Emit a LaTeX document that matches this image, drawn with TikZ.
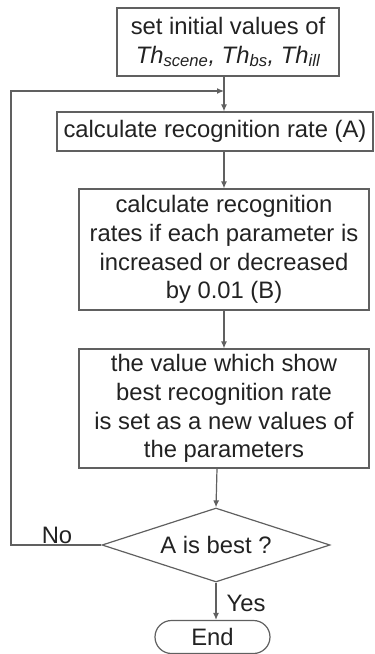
\documentclass[tikz,border=0pt]{standalone}
\usepackage{fontspec}
\setmainfont{Liberation Sans}
\usetikzlibrary{shapes.geometric,shapes.misc,arrows.meta}
\definecolor{linec}{HTML}{606060}
\definecolor{textc}{HTML}{222222}
\tikzset{
  box/.style={draw=linec, line width=1.2pt, inner sep=0pt, align=center, text=textc,
    font=\fontsize{23.8pt}{28.7pt}\selectfont},
  conn/.style={draw=linec, line width=1.2pt, -{Latex[length=7pt,width=6pt]}},
  lbl/.style={text=textc, inner sep=0pt, font=\fontsize{23.8pt}{28.7pt}\selectfont}
}
\begin{document}
\begin{tikzpicture}[x=1pt,y=1pt]
\useasboundingbox (0,0) rectangle (375,-654);
\node[box, minimum width=222pt, minimum height=68pt] (b1) at (228,-42)
  {set initial values of\\ \itshape Th\textsubscript{scene}, Th\textsubscript{bs}, Th\textsubscript{ill}};
\node[box, minimum width=316pt, minimum height=39pt] (b2) at (215,-131.5)
  {calculate recognition rate (A)};
\node[box, minimum width=290pt, minimum height=121pt] (b3) at (224,-249.5)
  {calculate recognition\\ rates if each parameter is\\ increased or decreased\\ by 0.01 (B)};
\node[box, minimum width=290pt, minimum height=119pt] (b4) at (224,-408.5)
  {the value which show\\ best recognition rate\\ is set as a new values of\\ the parameters};
\node[box, shape=diamond, aspect=3.08, minimum width=228pt, minimum height=74pt] (dia) at (216,-545)
  {A is best ?};
\node[box, shape=rounded rectangle, minimum width=115pt, minimum height=33pt] (end) at (212.5,-637)
  {End};
\coordinate (cu) at (224,0);
\coordinate (cl) at (217,0);
\coordinate (m) at (224,-91);
\coordinate (lb) at (11,-545);
\draw[conn] (b1.south -| cu) -- (b2.north -| cu);
\draw[conn] (b2.south -| cu) -- (b3.north -| cu);
\draw[conn] (b3.south -| cu) -- (b4.north -| cu);
\draw[conn] (b4.south -| cl) -- (dia.north);
\draw[conn] (dia.south) -- (end.north -| dia.south);
\draw[conn] (dia.west) -- (lb) |- (m);
\node[lbl] (no) at (57,-535) {No};
\node[lbl] (yes) at (246,-603) {Yes};
\end{tikzpicture}
\end{document}
